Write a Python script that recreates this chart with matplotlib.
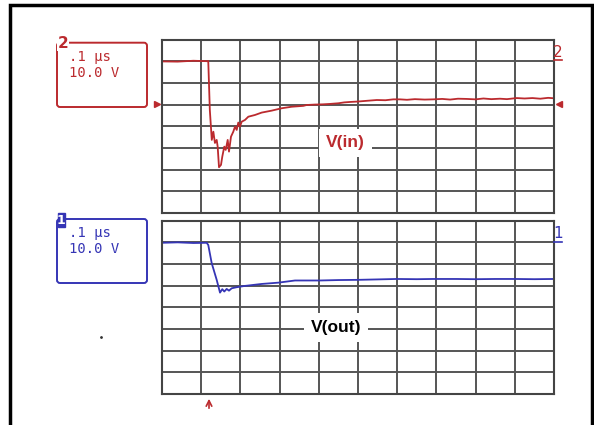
import matplotlib.pyplot as plt
from matplotlib.patches import FancyBboxPatch, Rectangle

# time in ns (0.1 us/div), volts (10 V/div), ground marker at 3rd line from top
t_in = [0, 40, 80, 116, 118, 122, 127, 131, 135, 139.5, 142, 145.4, 150.5, 153.8,
        158.9, 162.5, 167.6, 170.9, 176, 181.9, 186.2, 190.6, 194.6, 198.7, 203.3,
        211.7, 220.2, 237.2, 254.3, 279.8, 305.4, 330.9, 360.5, 369, 390, 410, 429,
        450, 465, 480, 500, 520, 548, 570, 590, 607, 625, 645, 670, 692, 715, 735,
        755, 777, 800, 820, 840, 862, 880, 905, 925, 945, 965, 985, 1000]
v_in = [19.9, 19.8, 20.2, 20.0, 20.1, -2.5, -16.3, -12.5, -17.7, -16.3, -19.4, -28.9,
        -27.8, -24.0, -19.4, -20.9, -16.3, -21.7, -14.8, -12.5, -10.2, -11.7, -8.3,
        -10.2, -7.9, -7.1, -5.6, -4.8, -3.7, -2.8, -1.7, -1.0, -0.6, -0.2, 0.0, 0.1,
        0.3, 0.6, 1.0, 1.2, 1.4, 1.7, 2.1, 2.0, 2.4, 2.4, 2.2, 2.5, 2.3, 2.4, 2.6,
        2.3, 2.7, 2.6, 2.4, 2.8, 2.5, 2.7, 2.5, 3.0, 2.8, 3.0, 2.7, 3.1, 2.9]

t_out = [0, 40, 80, 114, 118, 126.8, 139.5, 148, 153.8, 158.9, 165, 170.9, 177.8,
         190.6, 211.7, 254.3, 296.7, 339.3, 403, 450, 500.8, 550, 598.7, 650, 692,
         750, 800, 850, 900, 950, 1000]
v_out = [19.8, 20.0, 19.7, 19.8, 18.8, 10.4, 2.7, -3.2, -1.6, -2.7, -1.5, -2.3, -1.2,
         -0.7, -0.1, 0.8, 1.4, 2.4, 2.4, 2.6, 2.7, 2.9, 3.1, 3.0, 3.1, 3.1, 3.0, 3.1,
         3.1, 3.0, 3.1]

W, H = 594, 425
RED = '#bb2a2e'
BLUE = '#3535b5'

fig = plt.figure(figsize=(W / 100, H / 100), dpi=100)


def scope_axes(top, bottom):
    ax = fig.add_axes([162 / W, 1 - bottom / H, 392 / W, (bottom - top) / H])
    ax.set_xlim(0, 1000)
    ax.set_ylim(-50, 30)
    ax.set_xticks(range(0, 1001, 100))
    ax.set_yticks(range(-50, 31, 10))
    ax.grid(True, color='#555555', lw=1.4)
    ax.tick_params(length=0, labelbottom=False, labelleft=False)
    for s in ax.spines.values():
        s.set_color('#444444')
        s.set_linewidth(1.5)
    return ax


ax1 = scope_axes(39.5, 213)
ax1.plot(t_in, v_in, color=RED, lw=1.3)
ax1.text(468, -17.7, 'V(in)', color=RED, fontsize=12.5, fontweight='bold',
         family='Liberation Sans', ha='center', va='center',
         bbox=dict(fc='white', ec='none', pad=5))

ax2 = scope_axes(220.7, 394)
ax2.plot(t_out, v_out, color=BLUE, lw=1.3)
ax2.text(444, -19.5, 'V(out)', color='black', fontsize=12.5, fontweight='bold',
         family='Liberation Sans', ha='center', va='center',
         bbox=dict(fc='white', ec='none', pad=5))

# overlay in pixel coordinates for the surrounding scope decorations
ov = fig.add_axes([0, 0, 1, 1], zorder=5)
ov.set_xlim(0, W)
ov.set_ylim(H, 0)
ov.axis('off')
ov.patch.set_alpha(0)

# outer frame
ov.plot([9.5, 9.5, 592, 592], [H, 5, 5, H], color='black', lw=2.5,
        solid_joinstyle='miter')

# channel info boxes
for y0, y1, col in [(42.7, 107, RED), (219, 283, BLUE)]:
    ov.add_patch(FancyBboxPatch((57, y0), 90, y1 - y0,
                                boxstyle='round,pad=0,rounding_size=3',
                                fc='none', ec=col, lw=1.4))
    ov.text(69, y0 + 18, '.1 \u03bcs', color=col, fontsize=10,
            family='DejaVu Sans Mono', va='baseline')
    ov.text(69, y0 + 34, '10.0 V', color=col, fontsize=10,
            family='DejaVu Sans Mono', va='baseline')

ov.text(63, 43, '2', color=RED, fontsize=11, fontweight='bold',
        ha='center', va='center', bbox=dict(fc='white', ec='none', pad=0.5))
ov.add_patch(Rectangle((58, 213), 6.5, 14, fc=BLUE, ec=BLUE, lw=1, zorder=3))
ov.text(61.3, 220.5, '1', color='white', fontsize=9, fontweight='bold',
        ha='center', va='center', zorder=4)

# right-side channel numbers
ov.text(558, 52, '2', color=RED, fontsize=11, ha='center', va='center')
ov.plot([554, 562], [60, 60], color=RED, lw=1.2)
ov.text(558, 233, '1', color=BLUE, fontsize=11, ha='center', va='center')
ov.plot([554, 562], [242, 242], color=BLUE, lw=1.2)

# ground markers
ov.plot([157], [103.5], marker='>', color=RED, ms=5, mec=RED)
ov.plot([559], [103.5], marker='<', color=RED, ms=5, mec=RED)

# trigger arrow
ov.annotate('', xy=(209, 396), xytext=(209, 411),
            arrowprops=dict(arrowstyle='->', color=RED, lw=1.2, mutation_scale=10))

ov.plot([101], [337], marker='.', color='#333333', ms=2)

fig.savefig('out.png', dpi=100)
